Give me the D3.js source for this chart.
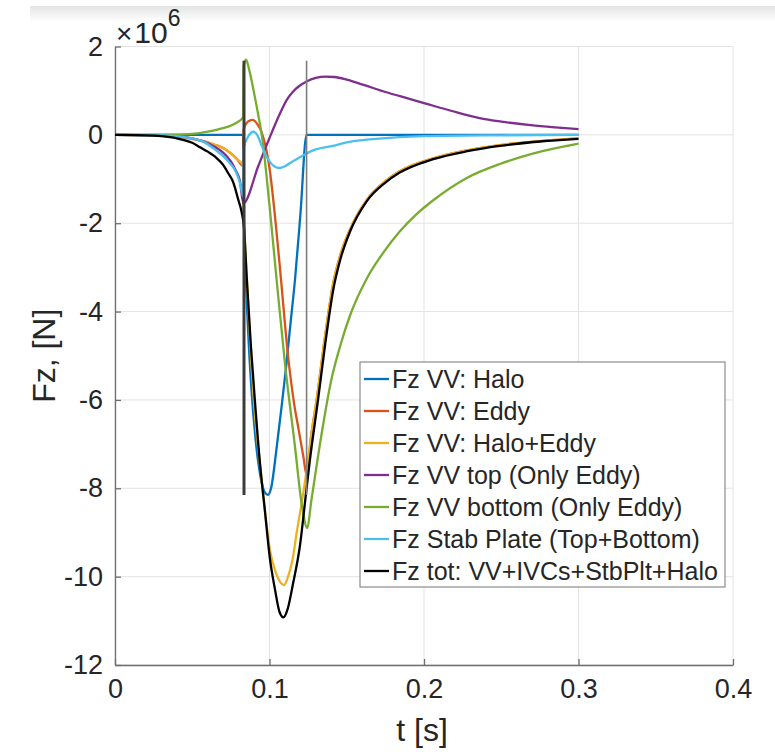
<!DOCTYPE html>
<html>
<head>
<meta charset="utf-8">
<script src="https://cdn.jsdelivr.net/npm/d3@7/dist/d3.min.js"></script>
<style>
  html, body { margin: 0; padding: 0; background: #fff; }
  svg { display: block; }
  text { font-family: "Liberation Sans", Arial, Helvetica, sans-serif; fill: #262626; }
</style>
</head>
<body>
<svg id="chart" width="775" height="752"></svg>
<script>
// ---- DATA (t in seconds, Fz in units of 1e6 N) ----
const xTicks = [0, 0.1, 0.2, 0.3, 0.4];
const yTicks = [2, 0, -2, -4, -6, -8, -10, -12];
const xTickLabels = ["0", "0.1", "0.2", "0.3", "0.4"];
const yTickLabels = ["2", "0", "-2", "-4", "-6", "-8", "-10", "-12"];

const seriesNames = [
  "Fz VV: Halo",
  "Fz VV: Eddy",
  "Fz VV: Halo+Eddy",
  "Fz VV top (Only Eddy)",
  "Fz VV bottom (Only Eddy)",
  "Fz Stab Plate (Top+Bottom)",
  "Fz tot: VV+IVCs+StbPlt+Halo"
];
const seriesColors = ["#0072BD", "#D95319", "#EDB120", "#7E2F8E", "#77AC30", "#4DBEEE", "#000000"];

const haloT = [0, 0.083, 0.0832, 0.085, 0.088, 0.091, 0.094, 0.097, 0.099, 0.101, 0.1047, 0.108, 0.111, 0.1135, 0.1165, 0.12, 0.124, 0.1242, 0.3];
const haloV = [0, 0, -1.5, -3.5, -5.6, -6.9, -7.7, -8.1, -8.15, -8.0, -7.06, -6.1, -5.17, -4.3, -3.28, -1.8, 0, 0, 0];

const eddyT = [0, 0.02, 0.03, 0.04, 0.05, 0.06, 0.065, 0.07, 0.075, 0.079, 0.083, 0.0832, 0.086, 0.089, 0.092, 0.095, 0.098, 0.1, 0.104, 0.107, 0.112, 0.116, 0.119, 0.122, 0.124,
  0.127, 0.1305, 0.136, 0.141, 0.146, 0.152, 0.163, 0.175, 0.184, 0.206, 0.228, 0.249, 0.275, 0.3];
const eddyV = [0, -0.005, -0.015, -0.04, -0.09, -0.17, -0.23, -0.3, -0.42, -0.55, -0.7, 0.12, 0.3, 0.34, 0.25, 0.05, -0.35, -0.75, -2.0, -3.1, -5.0, -6.1, -6.7, -7.3, -7.7,
  -6.8, -6.0, -4.55, -3.4, -2.7, -2.15, -1.47, -1.05, -0.83, -0.53, -0.35, -0.23, -0.14, -0.08];

const haloEddyT = [0, 0.02, 0.03, 0.04, 0.05, 0.06, 0.065, 0.07, 0.075, 0.079, 0.083, 0.0832, 0.085, 0.088, 0.091, 0.094, 0.097, 0.1003, 0.104, 0.1075, 0.1094, 0.112, 0.115, 0.1176, 0.121, 0.124,
  0.127, 0.1305, 0.136, 0.141, 0.146, 0.152, 0.163, 0.175, 0.184, 0.206, 0.228, 0.249, 0.275, 0.3];
const haloEddyV = [0, -0.005, -0.015, -0.04, -0.09, -0.17, -0.23, -0.3, -0.42, -0.55, -0.7, -1.5, -3.0, -5.0, -6.5, -7.5, -8.5, -9.4, -9.9, -10.15, -10.19, -10.0, -9.6, -9.0, -8.3, -7.6,
  -6.8, -6.0, -4.55, -3.4, -2.7, -2.15, -1.47, -1.05, -0.83, -0.53, -0.35, -0.23, -0.14, -0.08];

const topT = [0, 0.03, 0.04, 0.05, 0.058, 0.065, 0.07, 0.075, 0.0781, 0.0809, 0.083, 0.0928, 0.1, 0.107, 0.111, 0.115, 0.119, 0.124, 0.13, 0.136, 0.142, 0.15, 0.161, 0.175, 0.19, 0.2, 0.218, 0.236, 0.25, 0.269, 0.285, 0.3];
const topV = [0, -0.01, -0.03, -0.08, -0.16, -0.28, -0.4, -0.6, -0.8, -1.05, -1.55, -0.7, -0.07, 0.5, 0.78, 0.97, 1.1, 1.21, 1.29, 1.32, 1.31, 1.25, 1.13, 0.97, 0.82, 0.72, 0.54, 0.38, 0.3, 0.22, 0.17, 0.13];

const bottomT = [0, 0.04, 0.05, 0.058, 0.065, 0.07, 0.075, 0.079, 0.083, 0.0832, 0.0848, 0.087, 0.09, 0.093, 0.095, 0.1, 0.1046, 0.11, 0.1165, 0.121, 0.1245,
  0.127, 0.13, 0.135, 0.14, 0.146, 0.152, 0.163, 0.174, 0.184, 0.195, 0.206, 0.228, 0.249, 0.271, 0.3];
const bottomV = [0, 0.005, 0.02, 0.06, 0.11, 0.15, 0.21, 0.28, 0.4, 1.55, 1.7, 1.45, 0.95, 0.4, 0.0, -1.6, -3.28, -5.17, -7.06, -8.4, -8.9,
  -8.3, -7.6, -6.5, -5.55, -4.75, -4.1, -3.25, -2.65, -2.2, -1.8, -1.48, -0.97, -0.66, -0.42, -0.2];

const stabT = [0, 0.03, 0.04, 0.05, 0.058, 0.0647, 0.07, 0.0745, 0.0777, 0.0809, 0.083, 0.0832, 0.086, 0.0895, 0.092, 0.095, 0.097, 0.1, 0.103, 0.1065, 0.11, 0.115, 0.12, 0.124, 0.13, 0.141, 0.15, 0.163, 0.184, 0.2, 0.25, 0.3];
const stabV = [0, -0.01, -0.03, -0.08, -0.17, -0.33, -0.48, -0.65, -0.8, -1.09, -1.4, -0.3, -0.05, 0.07, 0.0, -0.25, -0.42, -0.6, -0.71, -0.75, -0.71, -0.6, -0.5, -0.42, -0.33, -0.25, -0.17, -0.11, -0.05, -0.03, -0.01, 0];

const totT = [0, 0.02, 0.03, 0.04, 0.05, 0.055, 0.06, 0.065, 0.07, 0.0733, 0.0766, 0.0798, 0.082, 0.0835, 0.0852, 0.088, 0.0905, 0.094, 0.097, 0.1003, 0.1036, 0.1065, 0.109, 0.112, 0.115, 0.1197, 0.124, 0.126, 0.1316, 0.136, 0.1413, 0.146, 0.152, 0.163, 0.175, 0.184, 0.206, 0.228, 0.249, 0.275, 0.3];
const totV = [0, -0.01, -0.03, -0.08, -0.18, -0.28, -0.38, -0.5, -0.68, -0.87, -1.08, -1.47, -1.75, -2.1, -3.2, -4.8, -6.0, -7.5, -8.5, -9.6, -10.3, -10.8, -10.92, -10.7, -10.2, -9.3, -8.0, -7.4, -5.95, -4.75, -3.5, -2.8, -2.2, -1.5, -1.08, -0.86, -0.55, -0.37, -0.25, -0.15, -0.09];

// vertical marker lines
const markerT = [0.0835, 0.124];
const markerTop = 1.68;
const markerBottom = -8.15;

const seriesT = [haloT, eddyT, haloEddyT, topT, bottomT, stabT, totT];
const seriesV = [haloV, eddyV, haloEddyV, topV, bottomV, stabV, totV];

// ---- DRAW ----
const svg = d3.select("#chart");
const L = 115, R = 733, T = 46.5, B = 665;
const x = d3.scaleLinear().domain([0, 0.4]).range([L, R]);
const y = d3.scaleLinear().domain([-12, 2]).range([B, T]);

// screenshot shading strip at top
const defs = svg.append("defs");
const grad = defs.append("linearGradient").attr("id", "topband").attr("x1", 0).attr("y1", 0).attr("x2", 0).attr("y2", 1);
grad.append("stop").attr("offset", "0%").attr("stop-color", "#e4e4e4");
grad.append("stop").attr("offset", "100%").attr("stop-color", "#ffffff");
svg.append("rect").attr("x", 30).attr("y", 6).attr("width", 745).attr("height", 16).attr("fill", "url(#topband)");

// grid
const grid = svg.append("g");
grid.selectAll("line.vx").data(xTicks).join("line")
  .attr("x1", d => x(d)).attr("x2", d => x(d)).attr("y1", T).attr("y2", B)
  .attr("stroke", "#e3e3e3").attr("stroke-width", 1);
grid.selectAll("line.hy").data(yTicks).join("line")
  .attr("x1", L).attr("x2", R).attr("y1", d => y(d)).attr("y2", d => y(d))
  .attr("stroke", "#e3e3e3").attr("stroke-width", 1);

// axes
const xAxis = d3.axisBottom(x).tickValues(xTicks).tickFormat((d, i) => xTickLabels[i]).tickSizeInner(-6).tickSizeOuter(0).tickPadding(14);
const yAxis = d3.axisLeft(y).tickValues(yTicks).tickFormat((d, i) => yTickLabels[i]).tickSizeInner(-6).tickSizeOuter(0).tickPadding(12);
const gx = svg.append("g").attr("transform", `translate(0,${B})`).call(xAxis);
const gy = svg.append("g").attr("transform", `translate(${L},0)`).call(yAxis);
[gx, gy].forEach(g => {
  g.select(".domain").attr("stroke", "#6e6e6e").attr("stroke-width", 1.3);
  g.selectAll(".tick line").attr("stroke", "#6e6e6e").attr("stroke-width", 1.3);
  g.selectAll(".tick text").attr("font-size", 27).attr("fill", "#262626")
    .attr("font-family", "Liberation Sans, Arial, sans-serif");
});
gx.selectAll(".tick text").attr("dy", "0.71em");

// exponent label
const expo = svg.append("text").attr("x", 116).attr("y", 43).attr("font-size", 30);
expo.append("tspan").attr("font-size", 28).text("\u00d7");
expo.append("tspan").attr("dx", 2).text("10");
expo.append("tspan").attr("dy", -17).attr("font-size", 23).text("6");

// axis labels
svg.append("text").attr("x", (L + R) / 2 - 2).attr("y", 741).attr("text-anchor", "middle")
  .attr("font-size", 32).text("t [s]");
svg.append("text").attr("transform", `translate(55,${(T + B) / 2}) rotate(-90)`)
  .attr("text-anchor", "middle").attr("font-size", 32).text("Fz, [N]");

// curves
const line = d3.line().x(d => x(d[0])).y(d => y(d[1])).curve(d3.curveMonotoneX);
const curves = svg.append("g").attr("fill", "none");
seriesNames.forEach((name, i) => {
  const pts = seriesT[i].map((t, j) => [t, seriesV[i][j]]);
  curves.append("path").attr("d", line(pts))
    .attr("stroke", seriesColors[i]).attr("stroke-width", 2.3)
    .attr("stroke-linejoin", "round");
});

// vertical markers
svg.append("g").selectAll("line").data(markerT).join("line")
  .attr("x1", d => x(d)).attr("x2", d => x(d))
  .attr("y1", y(markerTop)).attr("y2", y(markerBottom))
  .attr("stroke", (d, i) => i === 0 ? "#3c3c3c" : "#7d7d7d")
  .attr("stroke-width", (d, i) => i === 0 ? 3 : 1.6);

// legend
const lg = svg.append("g");
const lx = 360, ly = 362, lw = 365, lh = 225, rowH = 32, row0 = 379;
lg.append("rect").attr("x", lx).attr("y", ly).attr("width", lw).attr("height", lh)
  .attr("fill", "#fff").attr("stroke", "#8c8c8c").attr("stroke-width", 1.2);
seriesNames.forEach((name, i) => {
  const cy = row0 + i * rowH;
  lg.append("line").attr("x1", lx + 4).attr("x2", lx + 29).attr("y1", cy).attr("y2", cy)
    .attr("stroke", seriesColors[i]).attr("stroke-width", 2.3);
  lg.append("text").attr("x", lx + 32).attr("y", cy).attr("dy", "0.36em")
    .attr("font-size", 25).text(name);
});
</script>
</body>
</html>
